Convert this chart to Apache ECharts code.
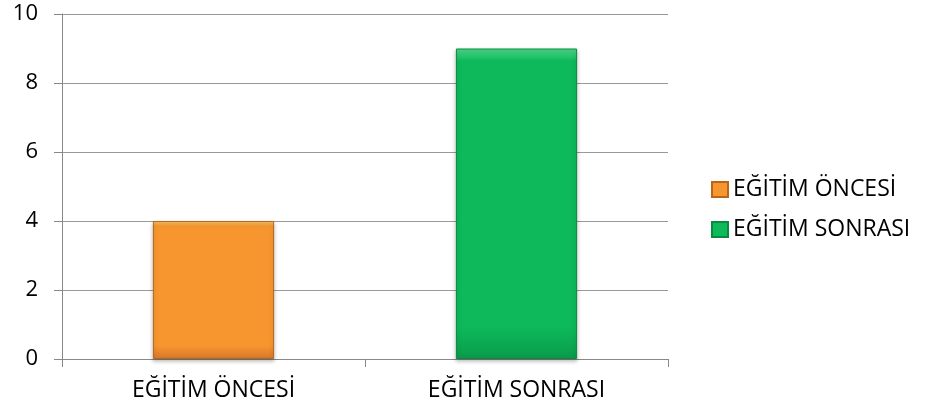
<!DOCTYPE html>
<html>
<head>
<meta charset="utf-8">
<script src="https://cdn.jsdelivr.net/npm/echarts@6/dist/echarts.min.js"></script>
<style>html,body{margin:0;padding:0;background:#fff;}#c{width:930px;height:413px;}</style>
</head>
<body>
<div id="c"></div>
<script>
var categories = ['EĞİTİM ÖNCESİ', 'EĞİTİM SONRASI'];
var seriesNames = ['EĞİTİM ÖNCESİ', 'EĞİTİM SONRASI'];
var beforeValues = [4, null];
var afterValues = [null, 9];
var yTicks = [0, 2, 4, 6, 8, 10];

var font = 'Open Sans';
function grad(top, mid, bot) {
  return new echarts.graphic.LinearGradient(0, 0, 0, 1, [
    {offset: 0, color: top}, {offset: 0.04, color: mid}, {offset: 0.9, color: mid}, {offset: 1, color: bot}
  ]);
}
var chart = echarts.init(document.getElementById('c'));
chart.setOption({
  animation: false,
  grid: {left: 62, right: 262, top: 14, bottom: 54},
  legend: {
    orient: 'vertical', left: 706, top: 173, itemGap: 17,
    itemWidth: 16, itemHeight: 15, icon: 'rect',
    textStyle: {fontFamily: font, fontSize: 23, color: '#000'},
    data: seriesNames
  },
  xAxis: {
    type: 'category', data: categories,
    axisLine: {lineStyle: {color: '#888', width: 1}},
    axisTick: {show: true, length: 8, lineStyle: {color: '#888'}},
    axisLabel: {fontFamily: font, fontSize: 23, color: '#000', margin: 20}
  },
  yAxis: {
    type: 'value', min: 0, max: 10, interval: 2,
    axisLine: {show: true, lineStyle: {color: '#888'}},
    axisTick: {show: true, length: 8, lineStyle: {color: '#888'}},
    splitLine: {lineStyle: {color: '#999', width: 1}},
    axisLabel: {fontFamily: font, fontSize: 22, color: '#000', margin: 24,
      formatter: function (v) { return yTicks.indexOf(v) >= 0 ? String(v) : ''; }}
  },
  series: [
    {name: seriesNames[0], type: 'bar', stack: 's', barWidth: '40%', data: beforeValues,
      itemStyle: {color: grad('#fcc36a', '#f7962f', '#d8782a'), borderColor: '#b8651e', borderWidth: 1,
        shadowColor: 'rgba(0,0,0,0.25)', shadowBlur: 4, shadowOffsetY: 2}},
    {name: seriesNames[1], type: 'bar', stack: 's', barWidth: '40%', data: afterValues,
      itemStyle: {color: grad('#4fd98a', '#0db95a', '#0a9a4a'), borderColor: '#088a42', borderWidth: 1,
        shadowColor: 'rgba(0,0,0,0.25)', shadowBlur: 4, shadowOffsetY: 2}}
  ]
});
</script>
</body>
</html>
